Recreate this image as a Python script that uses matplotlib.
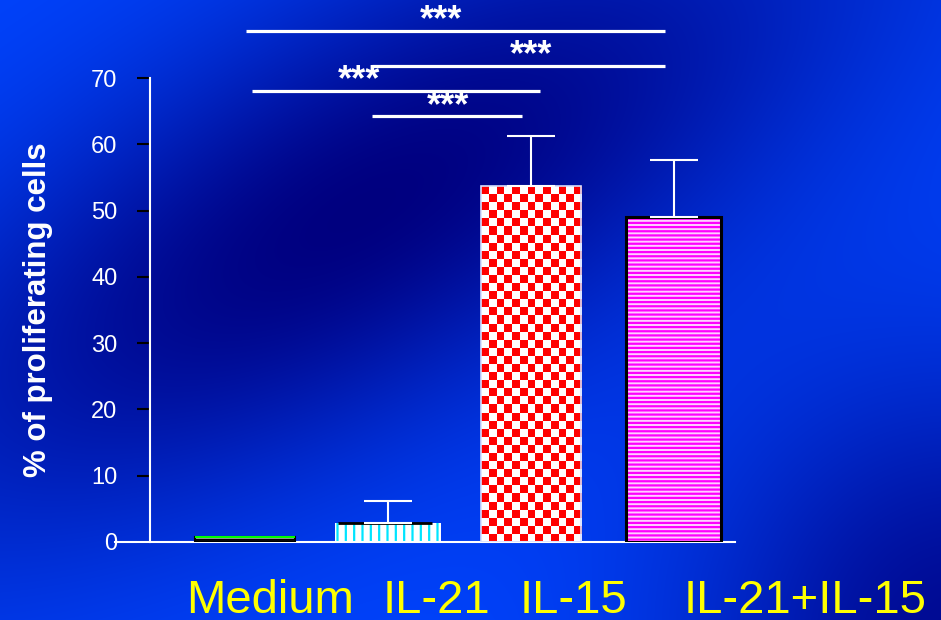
import numpy as np
import matplotlib
matplotlib.use('Agg')
import matplotlib.pyplot as plt

plt.rcParams['font.family'] = ['Liberation Sans', 'DejaVu Sans']
plt.rcParams['hatch.linewidth'] = 1.6

# Proliferation data (% of proliferating cells, mean and upper SD)
conditions = ['Medium', 'IL-21', 'IL-15', 'IL-21+IL-15']
means = [0.8, 2.9, 53.7, 49.0]
errors = [0.0, 3.3, 7.5, 8.7]
yticks = [0, 10, 20, 30, 40, 50, 60, 70]

# Significance brackets: (start, end, height) and their labels
brackets = [(0.01, 2.94, 77.1), (0.89, 2.94, 71.8), (0.05, 2.06, 68.0), (0.89, 1.94, 64.2)]
bracket_labels = ['***', '***', '***', '***']
label_x = [1.37, 2.0, 0.80, 1.42]

W, H = 941, 620
fig = plt.figure(figsize=(W / 100, H / 100), dpi=100)

# Blue gradient backdrop
bg = fig.add_axes([0, 0, 1, 1], zorder=-10)
yy, xx = np.mgrid[0:H, 0:W].astype(float)
dx, dy = xx - 360, yy - 210
u = dx * 0.87 - dy * 0.49
v = dx * 0.49 + dy * 0.87
dark = np.exp(-(u / 560) ** 2 - (v / 210) ** 2)
dark += 0.85 * np.exp(-((xx - 960) ** 2 + (yy - 640) ** 2) / 280 ** 2)
dark = np.clip(dark, 0, 1)
bright = np.array([0.0, 0.27, 1.0])
navy = np.array([0.0, 0.0, 0.5])
img = bright[None, None, :] * (1 - dark[..., None]) + navy[None, None, :] * dark[..., None]
bg.imshow(img, aspect='auto', extent=(0, 1, 0, 1), origin='upper')
bg.axis('off')

ax = fig.add_axes([115 / W, (H - 542) / H, 620 / W, 464 / H])
ax.set_facecolor('none')
ax.set_xlim(-0.909, 3.427)
ax.set_ylim(0, 70)

x = np.arange(len(conditions))
w = 0.7

# Medium: black bar with white dashes and a green top
ax.bar(x[0], means[0], w, color='black', edgecolor='white', hatch='--', lw=0, zorder=2)
ax.bar(x[0], means[0], w, color='none', edgecolor='black', lw=1.5, zorder=3)
ax.hlines(means[0], x[0] - w / 2, x[0] + w / 2, color='#00ff00', lw=1.5, zorder=4)

# IL-21: white with cyan vertical stripes, black top line
ax.bar(x[1], means[1], w * 1.05, color='white', edgecolor='#00e5ff', hatch='||', lw=0, zorder=2)
ax.hlines(means[1], x[1] - w / 2, x[1] + w / 2 - 0.04, color='black', lw=2, zorder=4)

# IL-15: red/white checkerboard
cell = 8
ncol = int(round(w * 143 / cell))
nrow = int(round(means[2] * 464 / 70 / cell))
checker = (np.add.outer(np.arange(nrow), np.arange(ncol)) % 2).astype(float)
cmap = matplotlib.colors.ListedColormap(['#ff0000', 'white'])
ax.imshow(checker, cmap=cmap, aspect='auto', interpolation='nearest',
          extent=(x[2] - w / 2, x[2] + w / 2, 0, means[2]), zorder=2)
ax.bar(x[2], means[2], w, color='none', edgecolor='#d8e0ff', lw=1.2, zorder=3)

# IL-21+IL-15: magenta horizontal stripes, black outline
ax.bar(x[3], means[3], w * 0.95, color='#ffd0ff', edgecolor='#ff00ff', hatch='----', lw=0, zorder=2)
ax.bar(x[3], means[3], w * 0.95, color='none', edgecolor='black', lw=2.2, zorder=3)

# Upper error bars
for i in range(1, 4):
    ax.errorbar(x[i], means[i], yerr=[[0], [errors[i]]], fmt='none', ecolor='white',
                elinewidth=1.5, capsize=17, capthick=1.5, zorder=5)

# Significance brackets
for (x0, x1, yb), lab, lx in zip(brackets, bracket_labels, label_x):
    ax.plot([x0, x1], [yb, yb], color='white', lw=2.3, clip_on=False, solid_capstyle='butt')
    ax.text(lx, yb + 0.1, lab, color='white', fontsize=26, fontweight='bold',
            ha='center', va='baseline', clip_on=False)

# Axes styling
for s in ['top', 'right']:
    ax.spines[s].set_visible(False)
ax.spines['left'].set_position(('data', -0.664))
ax.spines['left'].set_color('white')
ax.spines['left'].set_linewidth(1.5)
ax.spines['left'].set_bounds(0, 70)
ax.spines['bottom'].set_color('white')
ax.spines['bottom'].set_linewidth(1.5)
ax.set_xticks([])
ax.set_yticks(yticks)
ax.tick_params(axis='y', direction='out', length=9.5, width=1.5, color='black',
               labelcolor='white', labelsize=17, pad=14)
ax.set_ylabel('% of proliferating cells', color='white', fontsize=22.5, fontweight='bold')
ax.yaxis.set_label_coords((53 - 115) / 620, 0.5)

# Condition labels along the bottom
label_centers = [270, 436, 573, 805]
for name, cx in zip(conditions, label_centers):
    fig.text(cx / W, 1 - 613 / H, name, color='#ffff00', fontsize=34,
             ha='center', va='baseline')

fig.savefig('out.png', dpi=100)
